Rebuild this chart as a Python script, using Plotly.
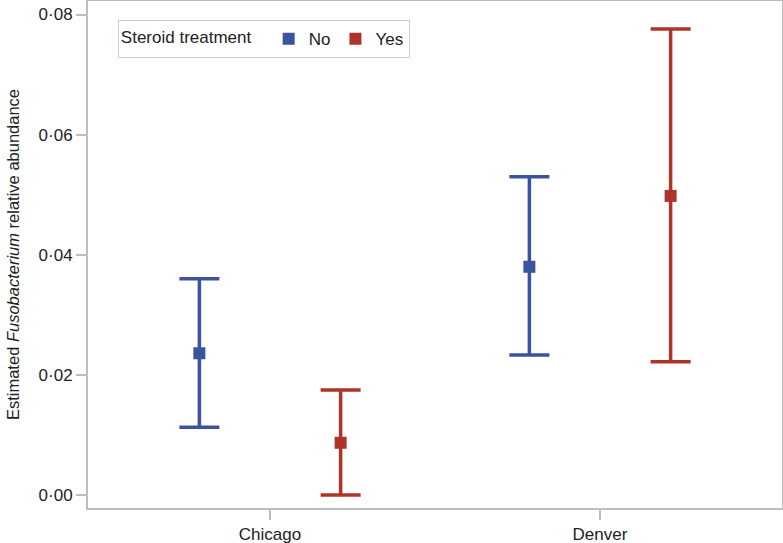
import plotly.graph_objects as go

cities = ["Chicago", "Denver"]
no_est = [0.0236, 0.0380]
no_upper = [0.0360, 0.0530]
no_lower = [0.0113, 0.0233]
yes_est = [0.0087, 0.0498]
yes_upper = [0.0175, 0.0776]
yes_lower = [0.0000, 0.0222]
y_ticks = [0.0, 0.02, 0.04, 0.06, 0.08]
y_tick_labels = ["0·00", "0·02", "0·04", "0·06", "0·08"]

BLUE = "#3a52a0"
RED = "#ae3329"
offset = 0.214

def trace(name, est, up, lo, color, sign):
    xs = [i + sign * offset for i in range(len(cities))]
    return go.Scatter(
        x=xs, y=est, mode="markers", name=name,
        marker=dict(symbol="square", size=12, color=color),
        error_y=dict(type="data", symmetric=False,
                     array=[u - e for u, e in zip(up, est)],
                     arrayminus=[e - l for e, l in zip(est, lo)],
                     color=color, thickness=3.5, width=20),
    )

fig = go.Figure()
fig.add_trace(trace("No", no_est, no_upper, no_lower, BLUE, -1))
fig.add_trace(trace("Yes", yes_est, yes_upper, yes_lower, RED, 1))

axis_common = dict(showline=True, linecolor="#bdbdbd", linewidth=2, mirror=True,
                   ticks="outside", tickcolor="#bdbdbd", ticklen=10, tickwidth=1.5,
                   showgrid=False, zeroline=False, automargin=False,
                   tickfont=dict(size=17, color="#222222"))

fig.update_layout(
    width=783, height=543,
    margin=dict(l=88, r=1, t=1, b=35),
    paper_bgcolor="white", plot_bgcolor="white",
    font=dict(family="Liberation Sans, Arial, sans-serif", color="#222222"),
    xaxis=dict(range=[-0.5515, 1.5515], tickvals=[0, 1], ticktext=cities, **axis_common),
    yaxis=dict(range=[-0.00216, 0.08225], tickvals=y_ticks, ticktext=y_tick_labels,
               title=dict(text="Estimated <i>Fusobacterium</i> relative abundance",
                          font=dict(size=16.5)),
               **axis_common),
    legend=dict(orientation="h", x=0.043, y=0.962, xanchor="left", yanchor="top",
                bgcolor="white", bordercolor="#cccccc", borderwidth=1,
                title=dict(text="Steroid treatment\u00a0\u00a0", font=dict(size=17)),
                font=dict(size=17), tracegroupgap=0),
    showlegend=True,
)

fig.write_html("out.html", config={"displayModeBar": False},
               post_script="document.body.style.margin='0';document.body.style.padding='0';")
